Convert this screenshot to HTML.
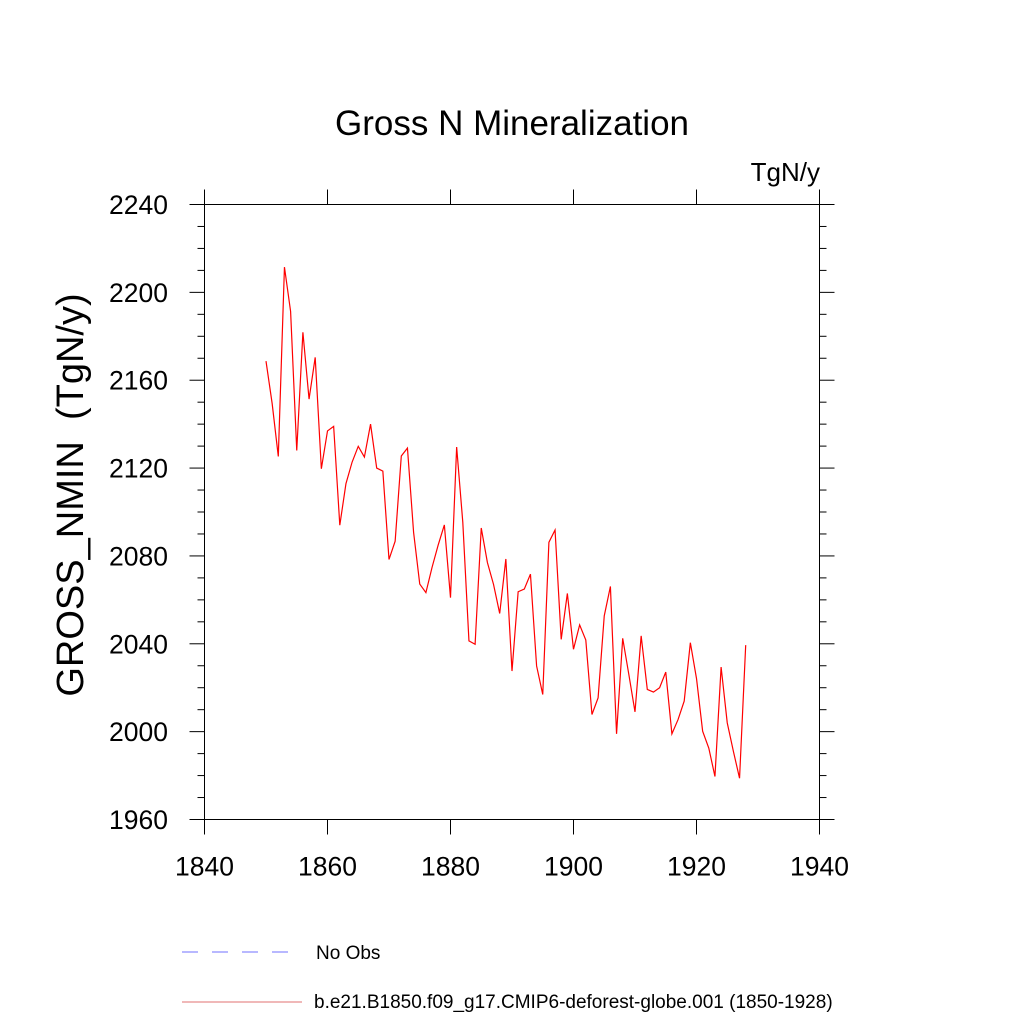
<!DOCTYPE html>
<html><head><meta charset="utf-8"><style>
html,body{margin:0;padding:0;background:#fff;}
svg{display:block;font-family:"Liberation Sans",Arial,sans-serif;}
</style></head><body>
<svg id="chart" width="1024" height="1024" viewBox="0 0 1024 1024" xmlns="http://www.w3.org/2000/svg">
<rect width="1024" height="1024" fill="#fff"/>
<text x="512" y="135" font-size="35" text-anchor="middle" fill="#000">Gross N Mineralization</text>
<text x="820" y="181" font-size="26" text-anchor="end" fill="#000">TgN/y</text>
<text transform="translate(83,495) rotate(-90)" font-size="38" text-anchor="middle" fill="#000">GROSS_NMIN &#160;(TgN/y)</text>
<g id="axes"></g>
<polyline id="series" fill="none" stroke="#ff0000" stroke-width="1.2"/>
<g>
<line x1="182" y1="952" x2="292" y2="952" stroke="#7070ff" stroke-width="1" stroke-dasharray="16,14"/>
<text x="316" y="959" font-size="19" fill="#000">No Obs</text>
<line x1="182" y1="1002" x2="302" y2="1002" stroke="#e07070" stroke-width="1"/>
<text x="314" y="1008" font-size="19" fill="#000">b.e21.B1850.f09_g17.CMIP6-deforest-globe.001 (1850-1928)</text>
</g>
</svg>
<script>
const years = [];
for (let y = 1850; y <= 1928; y++) years.push(y);
const values = [2168.7,2149.4,2125.3,2211.5,2191.3,2128,2181.8,2151.4,2170.4,2119.7,
2136.9,2139,2094,2112.9,2122.7,2129.9,2125,2140,2120,2118.6,
2078.4,2086.7,2125.5,2129.1,2090.7,2067.2,2063.3,2074.8,2085,2094.1,
2061,2129.6,2095.3,2041.3,2039.8,2092.7,2077,2067,2053.8,2078.6,
2027.6,2063.7,2064.9,2071.7,2029.9,2016.9,2086.2,2091.8,2042,2062.9,
2037.5,2048.6,2041.7,2007.8,2015.4,2052.7,2066.1,1999,2042.5,2026,
2009,2043.6,2019.2,2018,2020,2027.1,1999,2005.5,2013.9,2040.5,
2024.2,2000.2,1992.5,1979.6,2029.4,2004,1991,1978.8,2039.4];
const xTicks = [1840,1860,1880,1900,1920,1940];
const yTicks = [1960,2000,2040,2080,2120,2160,2200,2240];

const L=204.5, R=819.5, T=204.5, B=819.5;
const xS = v => L + (v-1840)/100*(R-L);
const yS = v => B - (v-1960)/280*(B-T);
const NS="http://www.w3.org/2000/svg";
const ax=document.getElementById('axes');
function line(x1,y1,x2,y2,name){
  const l=document.createElementNS(NS,'line');
  l.setAttribute('x1',x1);l.setAttribute('y1',y1);l.setAttribute('x2',x2);l.setAttribute('y2',y2);
  l.setAttribute('stroke','#000');l.setAttribute('stroke-width','1');
  
  
  ax.appendChild(l);
}
function text(x,y,s,anchor,name){
  const t=document.createElementNS(NS,'text');
  t.setAttribute('x',x);t.setAttribute('y',y);t.setAttribute('font-size','26.5');
  t.setAttribute('text-anchor',anchor);t.textContent=s;
  
  
  ax.appendChild(t);
}
const fr=document.createElementNS(NS,'rect');
fr.setAttribute('x',L);fr.setAttribute('y',T);fr.setAttribute('width',R-L);fr.setAttribute('height',B-T);
fr.setAttribute('fill','none');fr.setAttribute('stroke','#000');fr.setAttribute('stroke-width','1');


ax.appendChild(fr);
xTicks.forEach(v=>{
  const x=xS(v);
  line(x,B,x,B+15,'x-tick');
  line(x,T,x,T-15,'x-tick-top');
  text(x,B+56,String(v),'middle','x-tick-label');
});
for(let v=1960; v<=2240; v+=10){
  const y=yS(v), major=(v-1960)%40===0, len=major?15:7;
  line(L-len,y,L,y,'y-tick');
  line(R,y,R+len,y,'y-tick-right');
}
yTicks.forEach(v=>{ text(168,yS(v)+9.5,String(v),'end','y-tick-label'); });
document.getElementById('series').setAttribute('points',
  years.map((yr,i)=>xS(yr).toFixed(2)+','+yS(values[i]).toFixed(2)).join(' '));
</script>
</body></html>
